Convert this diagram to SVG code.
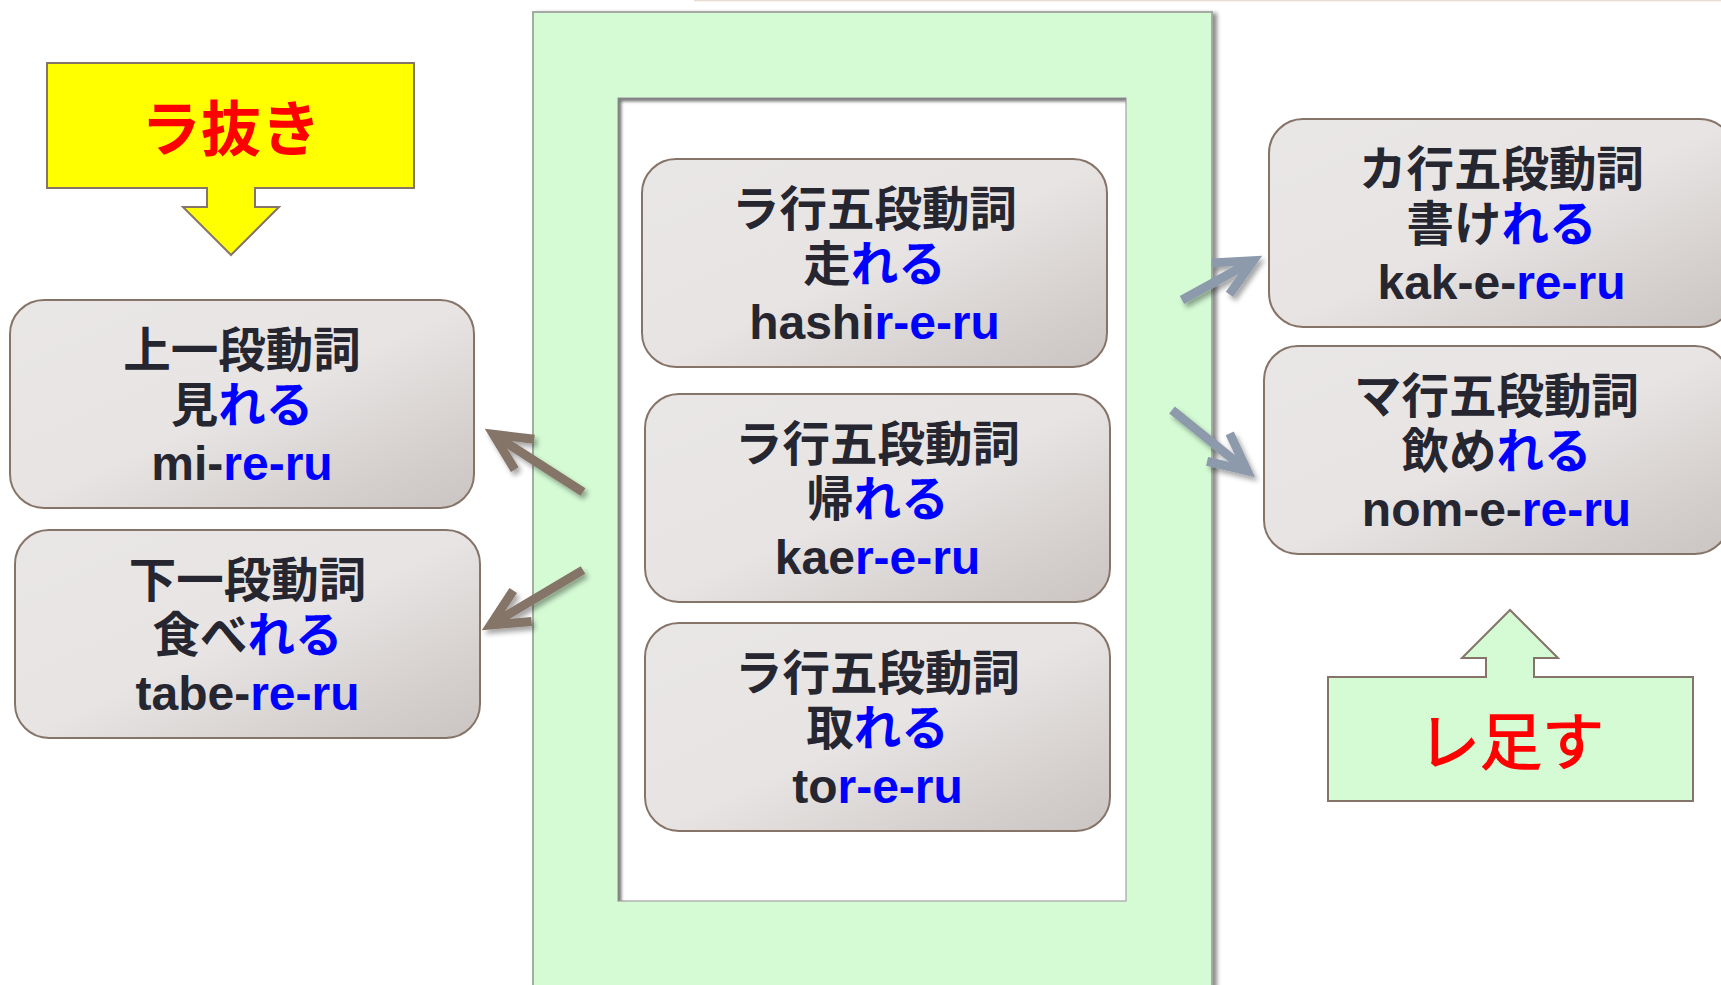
<svg xmlns="http://www.w3.org/2000/svg" width="1721" height="985" viewBox="0 0 1721 985">
<defs>
<style>
.node{fill:url(#boxGrad);stroke:#877469;stroke-width:2}
.jp{font-family:"Noto Sans CJK JP","Noto Sans CJK SC",sans-serif;font-weight:bold;font-size:47.5px;fill:#262631;text-anchor:middle}
.lat{font-family:"Liberation Sans",Arial,sans-serif;font-weight:bold;font-size:48px;fill:#262631;text-anchor:middle}
.b{fill:#0000ff}
.red{font-family:"Noto Sans CJK JP","Noto Sans CJK SC",sans-serif;fill:#ff0000;text-anchor:middle}
.conB{fill:none;stroke:#857468;stroke-width:9;marker-end:url(#ahB)}
.conG{fill:none;stroke:#8d9aab;stroke-width:9;marker-end:url(#ahG)}
.callout{stroke:#857468;stroke-width:2}
</style>
<linearGradient id="boxGrad" x1="0" y1="0" x2="1" y2="1">
<stop offset="0" stop-color="#e9e7e6"/>
<stop offset="0.5" stop-color="#e7e4e3"/>
<stop offset="1" stop-color="#cac4c2"/>
</linearGradient>
<marker id="ahB" markerUnits="userSpaceOnUse" viewBox="-50 -30 60 60" markerWidth="60" markerHeight="60" refX="0" refY="0" orient="auto" overflow="visible">
<path d="M-37,-18 L0,0 L-37,18" fill="none" stroke="#857468" stroke-width="9" stroke-linejoin="miter"/>
</marker>
<marker id="ahG" markerUnits="userSpaceOnUse" viewBox="-50 -30 60 60" markerWidth="60" markerHeight="60" refX="0" refY="0" orient="auto" overflow="visible">
<path d="M-37,-18 L0,0 L-37,18" fill="none" stroke="#8d9aab" stroke-width="9" stroke-linejoin="miter"/>
</marker>
<filter id="shadow" x="-20%" y="-20%" width="140%" height="140%">
<feDropShadow dx="3" dy="4" stdDeviation="2.5" flood-color="#000" flood-opacity="0.35"/>
</filter>
<filter id="panelShadow" x="-5%" y="-5%" width="110%" height="110%">
<feDropShadow dx="4" dy="2" stdDeviation="2" flood-color="#000" flood-opacity="0.45"/>
</filter>
<filter id="blur"><feGaussianBlur stdDeviation="1.5"/></filter>
<clipPath id="innerClip"><rect x="618" y="98" width="508" height="803"/></clipPath>
</defs>

<rect width="1721" height="985" fill="#ffffff"/>
<line x1="694" y1="0.5" x2="1721" y2="0.5" stroke="#e6dcd2" stroke-width="1.5"/>

<g id="panel">
<rect x="533" y="12" width="679" height="1000" fill="#d4fbd4" stroke="#a5aaa5" stroke-width="2" filter="url(#panelShadow)"/>
<rect x="618" y="98" width="508" height="803" fill="#ffffff" stroke="#b3b3b3" stroke-width="1.5"/>
<path d="M619,902 V99 H1127" fill="none" stroke="#7a7a7a" stroke-width="5" filter="url(#blur)" clip-path="url(#innerClip)"/>
</g>

<g id="ranuki">
<path class="callout" d="M47,63 H414 V188 H255 V207 H279 L231,255 L183,207 H207 V188 H47 Z" fill="#ffff00"/>
<text class="red" x="231" y="151" font-size="60" font-weight="bold">ラ抜き</text>
</g>

<g id="retasu">
<path class="callout" d="M1328,677 H1486 V658 H1462 L1510,610 L1558,658 H1534 V677 H1693 V801 H1328 Z" fill="#d4fbd4"/>
<text class="red" x="1511" y="765" font-size="62" stroke="#ff0000" stroke-width="1.3">レ足す</text>
</g>

<g id="connectors" filter="url(#shadow)">
<path class="conB" d="M583,492 L493.4,434.4"/>
<path class="conB" d="M583,570 L490.6,624.9"/>
<path class="conG" d="M1182,300 L1253.2,260.8"/>
<path class="conG" d="M1172,410 L1247.2,470.7"/>
</g>

<g id="ra-hashiru">
<rect class="node" x="642" y="159" width="465" height="208" rx="34"/>
<text class="jp" x="874.5" y="226">ラ行五段動詞</text>
<text class="jp" x="874.5" y="281">走<tspan class="b">れる</tspan></text>
<text class="lat" x="874.5" y="339">hashi<tspan class="b">r-e-ru</tspan></text>
</g>

<g id="ra-kaeru">
<rect class="node" x="645" y="394" width="465" height="208" rx="34"/>
<text class="jp" x="877.5" y="461">ラ行五段動詞</text>
<text class="jp" x="877.5" y="516">帰<tspan class="b">れる</tspan></text>
<text class="lat" x="877.5" y="574">kae<tspan class="b">r-e-ru</tspan></text>
</g>

<g id="ra-toru">
<rect class="node" x="645" y="623" width="465" height="208" rx="34"/>
<text class="jp" x="877.5" y="690">ラ行五段動詞</text>
<text class="jp" x="877.5" y="745">取<tspan class="b">れる</tspan></text>
<text class="lat" x="877.5" y="803">to<tspan class="b">r-e-ru</tspan></text>
</g>

<g id="kami-ichidan">
<rect class="node" x="10" y="300" width="464" height="208" rx="34"/>
<text class="jp" x="242" y="367">上一段動詞</text>
<text class="jp" x="242" y="422">見<tspan class="b">れる</tspan></text>
<text class="lat" x="242" y="480">mi-<tspan class="b">re-ru</tspan></text>
</g>

<g id="shimo-ichidan">
<rect class="node" x="15" y="530" width="465" height="208" rx="34"/>
<text class="jp" x="247.5" y="597">下一段動詞</text>
<text class="jp" x="247.5" y="652">食べ<tspan class="b">れる</tspan></text>
<text class="lat" x="247.5" y="710">tabe-<tspan class="b">re-ru</tspan></text>
</g>

<g id="ka-kakeru">
<rect class="node" x="1269" y="119" width="465" height="208" rx="34"/>
<text class="jp" x="1501.5" y="186">カ行五段動詞</text>
<text class="jp" x="1501.5" y="241">書け<tspan class="b">れる</tspan></text>
<text class="lat" x="1501.5" y="299">kak-e-<tspan class="b">re-ru</tspan></text>
</g>

<g id="ma-nomeru">
<rect class="node" x="1264" y="346" width="465" height="208" rx="34"/>
<text class="jp" x="1496.5" y="413">マ行五段動詞</text>
<text class="jp" x="1496.5" y="468">飲め<tspan class="b">れる</tspan></text>
<text class="lat" x="1496.5" y="526">nom-e-<tspan class="b">re-ru</tspan></text>
</g>
</svg>
